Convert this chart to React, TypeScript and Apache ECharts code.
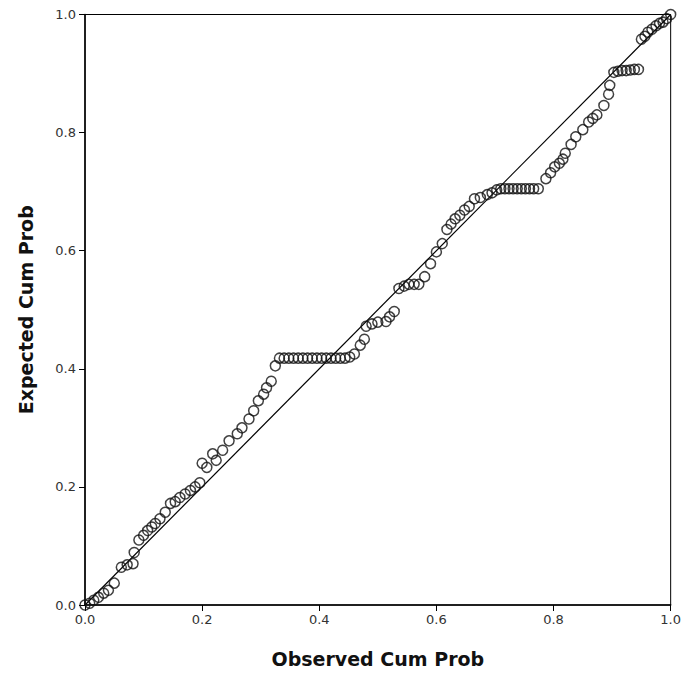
import React, { useEffect, useRef } from "react";
import * as echarts from "echarts";

const observed = [
  0.0, 0.008, 0.015, 0.023, 0.032, 0.04, 0.05, 0.062, 0.072, 0.082, 0.084, 0.092, 0.1, 0.107, 0.114, 0.12, 0.128,
  0.137, 0.146, 0.154, 0.162, 0.171, 0.18, 0.188, 0.196, 0.2, 0.208, 0.218, 0.224, 0.235, 0.246, 0.26, 0.268,
  0.28, 0.288, 0.296, 0.305, 0.31, 0.318, 0.325,
  0.332, 0.34, 0.348, 0.356, 0.364, 0.372, 0.38, 0.388, 0.396, 0.404, 0.412, 0.42, 0.428, 0.436, 0.444, 0.452,
  0.46, 0.47, 0.477, 0.48, 0.49, 0.5, 0.514, 0.52, 0.528,
  0.536, 0.545, 0.553, 0.562, 0.57, 0.58, 0.59, 0.6, 0.61, 0.618, 0.625, 0.632, 0.64, 0.648, 0.656, 0.665,
  0.675, 0.687, 0.695, 0.703, 0.71, 0.717, 0.724, 0.731, 0.738, 0.745, 0.752, 0.759, 0.766, 0.774,
  0.787, 0.795, 0.802, 0.81, 0.816, 0.82, 0.83, 0.838, 0.85, 0.86, 0.867, 0.874, 0.886, 0.894, 0.896,
  0.903, 0.91, 0.917, 0.924, 0.931, 0.938, 0.945,
  0.95, 0.956, 0.961, 0.968, 0.975, 0.981, 0.987, 0.993, 1.0,
];

const expected = [
  0.0, 0.003, 0.008, 0.013, 0.02, 0.025, 0.037, 0.064, 0.068, 0.07, 0.089, 0.11, 0.118, 0.126, 0.132, 0.138, 0.146,
  0.157, 0.172, 0.175, 0.182, 0.188, 0.194, 0.2, 0.207, 0.24, 0.233, 0.256, 0.245, 0.262, 0.278, 0.29, 0.3,
  0.315, 0.329, 0.346, 0.357, 0.368, 0.379, 0.405,
  0.418, 0.418, 0.418, 0.418, 0.418, 0.418, 0.418, 0.418, 0.418, 0.418, 0.418, 0.418, 0.418, 0.418, 0.418, 0.42,
  0.425, 0.44, 0.45, 0.472, 0.476, 0.479, 0.48, 0.488, 0.497,
  0.536, 0.54, 0.543, 0.543, 0.543, 0.556, 0.578, 0.598, 0.612, 0.636, 0.645, 0.654, 0.66, 0.669, 0.675, 0.688,
  0.69, 0.695, 0.698, 0.703, 0.705, 0.705, 0.705, 0.705, 0.705, 0.705, 0.705, 0.705, 0.705, 0.705,
  0.722, 0.732, 0.742, 0.748, 0.755, 0.765, 0.78, 0.793, 0.805, 0.818, 0.824, 0.83, 0.846, 0.865, 0.88,
  0.902, 0.904, 0.905, 0.905, 0.906, 0.907, 0.907,
  0.958, 0.963, 0.97, 0.975, 0.981, 0.985, 0.987, 0.993, 1.0,
];

const refLine = [
  [0, 0],
  [1, 1],
];

export default function App() {
  const ref = useRef<HTMLDivElement>(null);
  useEffect(() => {
    if (!ref.current) return;
    const chart = echarts.init(ref.current, undefined, { renderer: "svg" });
    const pts = observed.map((x, i) => [x, expected[i]]);
    const labelStyle = {
      color: "#333",
      fontFamily: "DejaVu Sans, sans-serif",
      fontSize: 13,
    };
    const nameStyle = {
      color: "#111",
      fontFamily: "DejaVu Sans, sans-serif",
      fontSize: 19,
      fontWeight: "bold",
    };
    chart.setOption({
      animation: false,
      backgroundColor: "#fff",
      grid: {
        left: 75,
        right: 4,
        top: 4,
        bottom: 69,
        show: true,
        borderColor: "#000",
        borderWidth: 1,
        backgroundColor: "transparent",
      },
      xAxis: {
        type: "value",
        min: 0,
        max: 1,
        interval: 0.2,
        name: "Observed Cum Prob",
        nameLocation: "middle",
        nameGap: 44,
        nameTextStyle: nameStyle,
        axisLine: { show: true, lineStyle: { color: "#000", width: 1.5 } },
        axisTick: { show: true, length: 6, lineStyle: { color: "#000" } },
        splitLine: { show: false },
        axisLabel: {
          ...labelStyle,
          margin: 8,
          formatter: (v: number) => v.toFixed(1),
        },
      },
      yAxis: {
        type: "value",
        min: 0,
        max: 1,
        interval: 0.2,
        name: "Expected Cum Prob",
        nameLocation: "middle",
        nameGap: 50,
        nameRotate: 90,
        nameTextStyle: nameStyle,
        axisLine: { show: true, lineStyle: { color: "#000", width: 1.5 } },
        axisTick: { show: true, length: 6, lineStyle: { color: "#000" } },
        splitLine: { show: false },
        axisLabel: {
          ...labelStyle,
          margin: 9,
          formatter: (v: number) => v.toFixed(1),
        },
      },
      series: [
        {
          type: "line",
          data: refLine,
          showSymbol: false,
          symbol: "none",
          lineStyle: { color: "#000", width: 1.2 },
          silent: true,
          z: 1,
        },
        {
          type: "scatter",
          data: pts,
          symbol: "circle",
          symbolSize: 10,
          itemStyle: {
            color: "rgba(255,255,255,0)",
            borderColor: "#111",
            borderWidth: 1.5,
          },
          z: 2,
        },
      ],
    });
    return () => chart.dispose();
  }, []);
  return <div ref={ref} style={{ width: 676, height: 666 }} />;
}
